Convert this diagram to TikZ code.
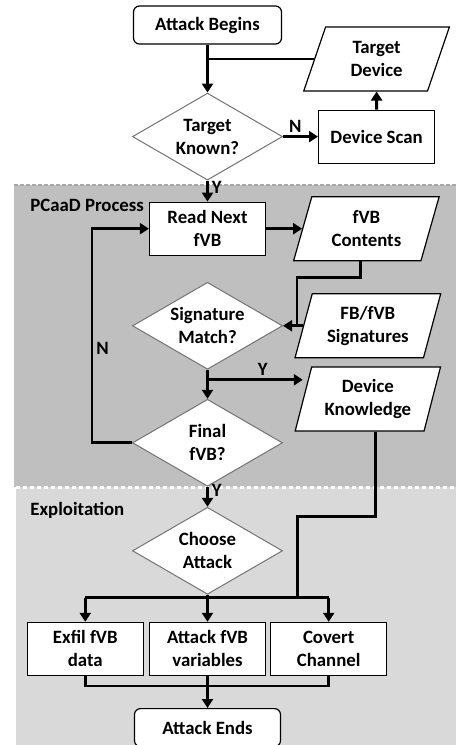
\documentclass[tikz,border=0pt]{standalone}
\usepackage{fontspec}
\setmainfont{Carlito}
\usepackage{tikz}
\usetikzlibrary{positioning}
\usetikzlibrary{arrows.meta,shapes.geometric}

\definecolor{phasedark}{HTML}{BFBFBF}
\definecolor{phaselight}{HTML}{D9D9D9}

\tikzset{
	box/.style={draw, line width=0.6pt, fill=white, minimum width=58pt, minimum height=26.5pt, inner sep=1pt, align=center},
	terminal/.style={box, rounded corners=3pt, minimum width=74pt, minimum height=19pt},
	decision/.style={diamond, draw=black!55, line width=0.5pt, fill=white, minimum width=75pt, minimum height=43.5pt, inner sep=-4pt, align=center},
	data/.style={trapezium, trapezium left angle=73, trapezium right angle=107, trapezium stretches=true, draw, line width=0.6pt, fill=white, minimum width=73pt, minimum height=32pt, inner sep=1pt, align=center},
	flow/.style={line width=1.4pt, -{Triangle[length=4.5pt,width=5.5pt]}},
	wire/.style={line width=1.4pt},
	yn/.style={inner sep=1.5pt}
}

\begin{document}
\begin{tikzpicture}[x=0.5pt, y=-0.5pt, font=\bfseries\fontsize{9.4}{11.5}\selectfont]
	\useasboundingbox (0,0) rectangle (456,745);

	% phase backgrounds
	\fill[phasedark] (14,185) rectangle (456,487);
	\fill[phaselight] (16,487) rectangle (456,745);
	\draw[black!35, line width=1.2pt, dash pattern=on 2pt off 1pt] (14,185) -- (456,185);
	\draw[white, line width=1.5pt, dash pattern=on 2pt off 1.5pt] (16,487) -- (456,487);
	\node[anchor=west, inner sep=0] (pcaad) at (30,205) {PCaaD Process};
	\node[anchor=west, inner sep=0] (exploit) at (30,510) {Exploitation};

	% main column
	\node[terminal] (begin) at (207.5,25) {Attack Begins};
	\node[decision] (known) [below = 24pt of begin] {Target\\Known?};
	\node[box] (readnext) [below = 10.5pt of known] {Read Next\\fVB};
	\node[decision] (sigmatch) [below = 13pt of readnext] {Signature\\Match?};
	\node[decision] (final) [below = 14.5pt of sigmatch] {Final\\fVB?};
	\node[decision] (choose) [below = 10pt of final] {Choose\\Attack};
	\node[box] (attvar) [below = 13.5pt of choose] {Attack fVB\\variables};
	\node[box] (exfil) [left = 2.5pt of attvar] {Exfil fVB\\data};
	\node[box] (covert) [right = 2pt of attvar] {Covert\\Channel};
	\node[terminal, minimum width=73pt] (ends) [below = 16pt of attvar] {Attack Ends};

	% side column
	\node[box] (dscan) [right = 17.5pt of known] {Device Scan};
	\node[data] (tgtdev) [above = 9pt of dscan] {Target\\Device};
	\node[data] (contents) [right = 18pt of readnext] {fVB\\Contents};
	\node[data] (sigs) [right = 10pt of sigmatch] {FB/fVB\\Signatures};
	\node[data] (knowledge) [below = 4pt of sigs] {Device\\Knowledge};

	% target discovery
	\draw[flow] (begin) -- (known);
	\draw[wire] (tgtdev.west) -- (begin.south |- tgtdev.west);
	\draw[flow] (known) -- node[yn, above, pos=0.35]{N} (dscan);
	\draw[flow] (dscan) -- (tgtdev);
	\draw[flow] (known) -- node[yn, right, pos=0.3]{Y} (readnext);

	% fVB loop
	\coordinate (sj) at ([xshift=-3pt]sigs.west);
	\draw[flow] (readnext.east) -- (readnext.east -| contents.west);
	\draw[wire] ([xshift=-3pt]contents.south) -- ++(0,-8pt) -| (sj);
	\draw[flow] (sigs.west) -- (sj) -- (sigmatch.east);
	\draw[flow] (sigmatch) -- (final);
	\coordinate (yb) at ([yshift=-5pt]sigmatch.south);
	\draw[flow] (yb) -- node[yn, above, pos=0.58]{Y} (yb -| knowledge.west);
	\draw[flow] (final.west) -- ++(-20pt,0) |- (readnext.west) node[yn, right, pos=0.22]{N};
	\draw[flow] (final) -- node[yn, right, pos=0.2]{Y} (choose);

	% exploitation
	\coordinate (bus) at ([yshift=-1.5pt]choose.south);
	\draw[wire] ([xshift=4pt]knowledge.south) -- ++(0,-42.5pt) -| ([xshift=45pt]bus);
	\draw[wire] (bus -| exfil) -- (bus -| covert);
	\draw[flow] (bus -| exfil) -- (exfil.north);
	\draw[flow] (choose.south) -- (attvar.north);
	\draw[flow] (bus -| covert) -- (covert.north);
	\draw[wire] (exfil.south) -- ++(0,-5pt) -| (covert.south);
	\draw[flow] (attvar) -- (ends);
\end{tikzpicture}
\end{document}
